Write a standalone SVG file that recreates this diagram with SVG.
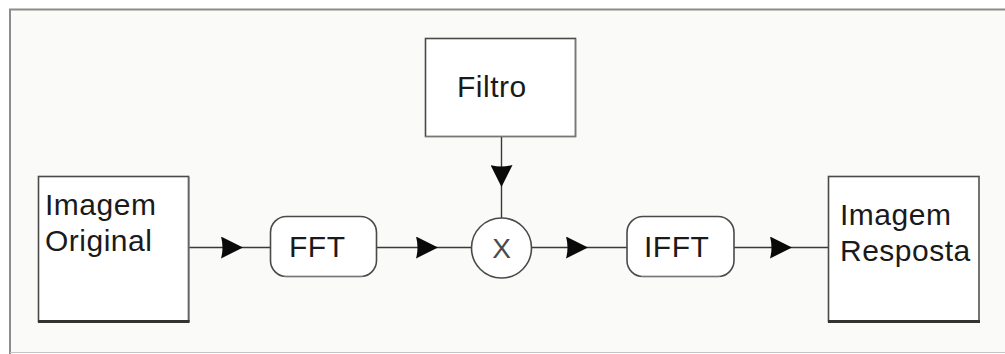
<svg xmlns="http://www.w3.org/2000/svg" width="1005" height="354" viewBox="0 0 1005 354">
  <style>
    .box { fill: #ffffff; stroke: #4a4a4a; stroke-width: 1.6; }
    .shadow { stroke: #333333; stroke-width: 3; fill: none; }
    .side { stroke: #777777; stroke-width: 1.2; fill: none; }
    .label { font-family: "Liberation Sans", Arial, sans-serif; font-size: 30px; fill: #1a1a1a; letter-spacing: 0.5px; }
    .op { font-family: "Liberation Sans", Arial, sans-serif; font-size: 28px; fill: #4a4a4a; text-anchor: middle; }
    .wire { fill: none; stroke: #3a3a3a; stroke-width: 1.4; marker-mid: url(#head); }
  </style>
  <defs>
    <marker id="head" markerUnits="userSpaceOnUse" viewBox="0 0 22 22" markerWidth="22" markerHeight="22" refX="22" refY="11" orient="auto">
      <path d="M0,0 L22,11 L0,22 Q3,11 0,0 Z" fill="#0a0a0a"/>
    </marker>
  </defs>

  <!-- canvas frame -->
  <rect x="0" y="0" width="1005" height="354" fill="#ffffff"/>
  <rect x="10" y="10" width="995" height="343" fill="#fafaf8"/>
  <line x1="9" y1="9.5" x2="1005" y2="9.5" stroke="#8c8c8c" stroke-width="2"/>
  <line x1="10" y1="9" x2="10" y2="354" stroke="#8c8c8c" stroke-width="2"/>
  <line x1="10" y1="352.5" x2="1005" y2="352.5" stroke="#c4c4c4" stroke-width="1"/>

  <!-- connectors -->
  <g id="connectors">
    <path class="wire" d="M189,247.5 L243,247.5 L270,247.5"/>
    <path class="wire" d="M377,247.5 L438,247.5 L472,247.5"/>
    <path class="wire" d="M532,247.5 L588,247.5 L627,247.5"/>
    <path class="wire" d="M734,247.5 L792,247.5 L828,247.5"/>
    <path class="wire" d="M501.5,137 L501.5,187 L501.5,218"/>
  </g>

  <g id="imagem-original">
    <rect class="box" x="38.5" y="176.5" width="150" height="145"/>
    <line class="side" x1="189" y1="177" x2="189" y2="322"/>
    <line class="shadow" x1="38" y1="321.5" x2="189.5" y2="321.5"/>
    <text class="label" x="45" y="215">Imagem</text>
    <text class="label" x="45" y="251">Original</text>
  </g>

  <g id="fft">
    <rect class="box" x="270.5" y="216.5" width="106" height="60" rx="16" ry="16"/>
    <path class="side" d="M284,276.5 L363,276.5" stroke-width="2"/>
    <text class="label" x="289" y="256.5">FFT</text>
  </g>

  <g id="filtro">
    <rect class="box" x="425.5" y="38.5" width="150" height="98"/>
    <line class="side" x1="575.5" y1="39" x2="575.5" y2="137"/>
    <line class="side" x1="425" y1="136.5" x2="576" y2="136.5" stroke-width="2"/>
    <text class="label" x="457" y="96.5">Filtro</text>
  </g>

  <g id="multiplicador">
    <circle class="box" cx="501.5" cy="248" r="30"/>
    <text class="op" x="501.5" y="258">X</text>
  </g>

  <g id="ifft">
    <rect class="box" x="627" y="216.5" width="107" height="60" rx="16" ry="16"/>
    <path class="side" d="M641,276.5 L720,276.5" stroke-width="2"/>
    <text class="label" x="644" y="256.5">IFFT</text>
  </g>

  <g id="imagem-resposta">
    <rect class="box" x="828.5" y="176.5" width="150.5" height="145"/>
    <line class="side" x1="979" y1="177" x2="979" y2="322" stroke-width="2"/>
    <line class="shadow" x1="828" y1="321.5" x2="980" y2="321.5"/>
    <text class="label" x="840" y="225">Imagem</text>
    <text class="label" x="840" y="261">Resposta</text>
  </g>
</svg>
